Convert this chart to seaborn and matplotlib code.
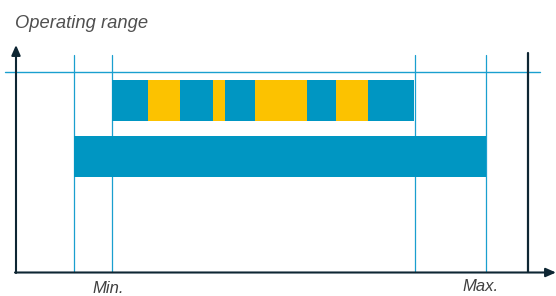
import matplotlib
matplotlib.use("Agg")
import matplotlib.pyplot as plt
import seaborn as sns

sns.set_theme(style="white")
plt.rcParams['font.family'] = ['Liberation Sans', 'DejaVu Sans']

# --- data (pixel-domain positions) ---
title = "Operating range"
tick_labels = ["Min.", "Max."]
# top bar segments: (start, end, kind)
top_starts = [112, 148, 180, 213, 225, 255, 307, 336, 368]
top_ends   = [148, 180, 213, 225, 255, 307, 336, 368, 414]
top_kinds  = ["b", "y", "b", "y", "b", "y", "b", "y", "b"]
bottom_start, bottom_end = 74, 486
guide_x = [74, 112, 415, 486]
limit_x = 528

BLUE = "#0096c2"
YELLOW = "#fcc200"
CYAN = "#1a9fcf"
DARK = "#0e2633"

fig = plt.figure(figsize=(5.56, 2.96), dpi=100)
ax = fig.add_axes([0, 0, 1, 1])
ax.set_xlim(0, 556)
ax.set_ylim(296, 0)
ax.axis("off")

# guide lines
for gx in guide_x:
    ax.plot([gx, gx], [55, 272], color=CYAN, lw=0.9, zorder=1)
ax.plot([5, 540], [72, 72], color=CYAN, lw=1.0, zorder=1)

# bars
cols = {"b": BLUE, "y": YELLOW}
for s, e, k in zip(top_starts, top_ends, top_kinds):
    ax.barh(100.5, e - s, left=s, height=41, color=cols[k], linewidth=0, zorder=2)
ax.barh(156.5, bottom_end - bottom_start, left=bottom_start, height=41,
        color=BLUE, linewidth=0, zorder=2)

# limit line
ax.plot([limit_x, limit_x], [53, 272], color=DARK, lw=1.6, zorder=3)

# axes arrows
ax.annotate("", xy=(16, 45), xytext=(16, 273), annotation_clip=False,
            arrowprops=dict(arrowstyle="-|>,head_length=0.5,head_width=0.22",
                            color=DARK, lw=1.5, shrinkA=0, shrinkB=0), zorder=4)
ax.annotate("", xy=(556, 272.5), xytext=(15, 272.5), annotation_clip=False,
            arrowprops=dict(arrowstyle="-|>,head_length=0.5,head_width=0.22",
                            color=DARK, lw=1.5, shrinkA=0, shrinkB=0), zorder=4)

# texts
ax.text(15, 27.5, title, fontsize=13.2, style="italic", color="#505050",
        ha="left", va="baseline")
ax.text(92, 293, tick_labels[0], fontsize=12, style="italic", color="#404040",
        ha="left", va="baseline")
ax.text(462, 291, tick_labels[1], fontsize=12, style="italic", color="#404040",
        ha="left", va="baseline")

fig.savefig("out.png", dpi=100)
